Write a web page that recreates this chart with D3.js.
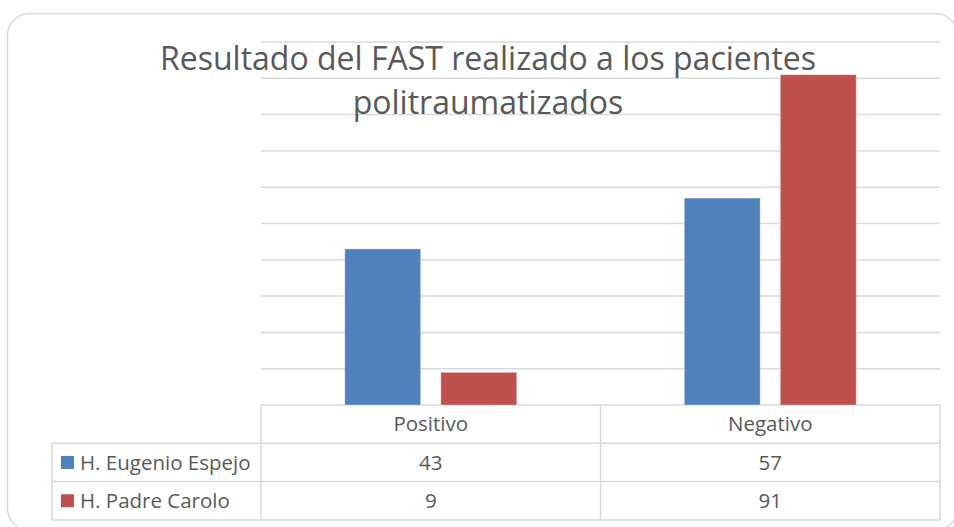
<!DOCTYPE html>
<html>
<head>
<meta charset="utf-8">
<script src="https://cdn.jsdelivr.net/npm/d3@7"></script>
<style>
  body { margin: 0; background: #fff; }
  svg text { font-family: "Open Sans", sans-serif; fill: #595959; }
</style>
</head>
<body>
<div id="chart"></div>
<script>
var categories = ['Positivo', 'Negativo'];
var series_names = ['H. Eugenio Espejo', 'H. Padre Carolo'];
var espejo_values = [43, 57];
var carolo_values = [9, 91];
var y_ticks = [0, 10, 20, 30, 40, 50, 60, 70, 80, 90, 100];
var title_lines = ['Resultado del FAST realizado a los pacientes', 'politraumatizados'];

var series_values = [espejo_values, carolo_values];
var series_colors = ['#4F81BD', '#C0504D'];

var width = 954;
var height = 527;

var plot = { left: 261, right: 940, top: 42, bottom: 405 };
var table_left = 52;
var row_height = 38.3;

var svg = d3.select('#chart')
    .append('svg')
    .attr('width', width)
    .attr('height', height);

// outer chart frame (runs past the right and bottom edges, like the cropped original)
svg.append('rect')
    .attr('x', 7.5)
    .attr('y', 13.5)
    .attr('width', 950)
    .attr('height', 516.5)
    .attr('rx', 22)
    .attr('fill', '#fff')
    .attr('stroke', '#d9d9d9')
    .attr('stroke-width', 1.5);

var x0 = d3.scaleBand()
    .domain(categories)
    .range([plot.left, plot.right]);

var x1 = d3.scaleBand()
    .domain(series_names)
    .range([0, x0.bandwidth()])
    .paddingInner(0.21)
    .paddingOuter(0.872);

var y = d3.scaleLinear()
    .domain([0, 100])
    .range([plot.bottom, plot.top]);

// gridlines
svg.append('g')
    .attr('id', 'grid_markings_horz')
    .selectAll('line').data(y_ticks).enter()
    .append('line')
    .attr('x1', plot.left)
    .attr('x2', plot.right)
    .attr('y1', function(d) { return y(d); })
    .attr('y2', function(d) { return y(d); })
    .attr('stroke', '#d9d9d9')
    .attr('stroke-width', 1.5);

// bars
var groups = svg.append('g')
    .selectAll('g').data(series_names).enter()
    .append('g')
    .attr('fill', function(d, i) { return series_colors[i]; });

groups.selectAll('rect')
    .data(function(name, si) {
        return categories.map(function(c, ci) {
            return { cat: c, name: name, value: series_values[si][ci] };
        });
    })
    .enter()
    .append('rect')
    .attr('x', function(d) { return x0(d.cat) + x1(d.name); })
    .attr('width', x1.bandwidth())
    .attr('y', function(d) { return y(d.value); })
    .attr('height', function(d) { return y(0) - y(d.value); })
    .attr('stroke', '#fff')
    .attr('stroke-opacity', 0.35)
    .attr('stroke-width', 1);

// title
svg.append('text')
    .attr('x', 488)
    .attr('text-anchor', 'middle')
    .style('font-size', '32px')
    .selectAll('tspan').data(title_lines).enter()
    .append('tspan')
    .attr('x', 488)
    .attr('y', function(d, i) { return 70 + i * 44; })
    .text(function(d) { return d; });

// data table
var table = svg.append('g').attr('id', 'data_table');
var line_color = '#d9d9d9';

function hline(x1p, x2p, yp) {
    table.append('line')
        .attr('x1', x1p).attr('x2', x2p)
        .attr('y1', yp).attr('y2', yp)
        .attr('stroke', line_color).attr('stroke-width', 1.5);
}
function vline(xp, y1p, y2p) {
    table.append('line')
        .attr('x1', xp).attr('x2', xp)
        .attr('y1', y1p).attr('y2', y2p)
        .attr('stroke', line_color).attr('stroke-width', 1.5);
}

var table_top = plot.bottom;
var table_bottom = table_top + row_height * (series_names.length + 1);

for (var r = 1; r <= series_names.length + 1; r++) {
    hline(table_left, plot.right, table_top + row_height * r);
}
vline(table_left, table_top + row_height, table_bottom);
categories.forEach(function(c, i) {
    vline(x0(c), table_top, table_bottom);
});
vline(plot.right, table_top, table_bottom);

table.selectAll('text.cat').data(categories).enter()
    .append('text')
    .attr('class', 'cat')
    .attr('x', function(d) { return x0(d) + x0.bandwidth() / 2; })
    .attr('y', table_top + row_height / 2)
    .attr('dy', '0.35em')
    .attr('text-anchor', 'middle')
    .style('font-size', '20.5px')
    .text(function(d) { return d; });

series_names.forEach(function(name, si) {
    var cy = table_top + row_height * (si + 1) + row_height / 2;
    table.append('rect')
        .attr('x', 61)
        .attr('y', cy - 6.5)
        .attr('width', 13)
        .attr('height', 13)
        .attr('fill', series_colors[si]);
    table.append('text')
        .attr('x', 80)
        .attr('y', cy)
        .attr('dy', '0.35em')
        .style('font-size', '20.5px')
        .text(name);
    categories.forEach(function(c, ci) {
        table.append('text')
            .attr('x', x0(c) + x0.bandwidth() / 2)
            .attr('y', cy)
            .attr('dy', '0.35em')
            .attr('text-anchor', 'middle')
            .style('font-size', '20.5px')
            .text(series_values[si][ci]);
    });
});
</script>
</body>
</html>
